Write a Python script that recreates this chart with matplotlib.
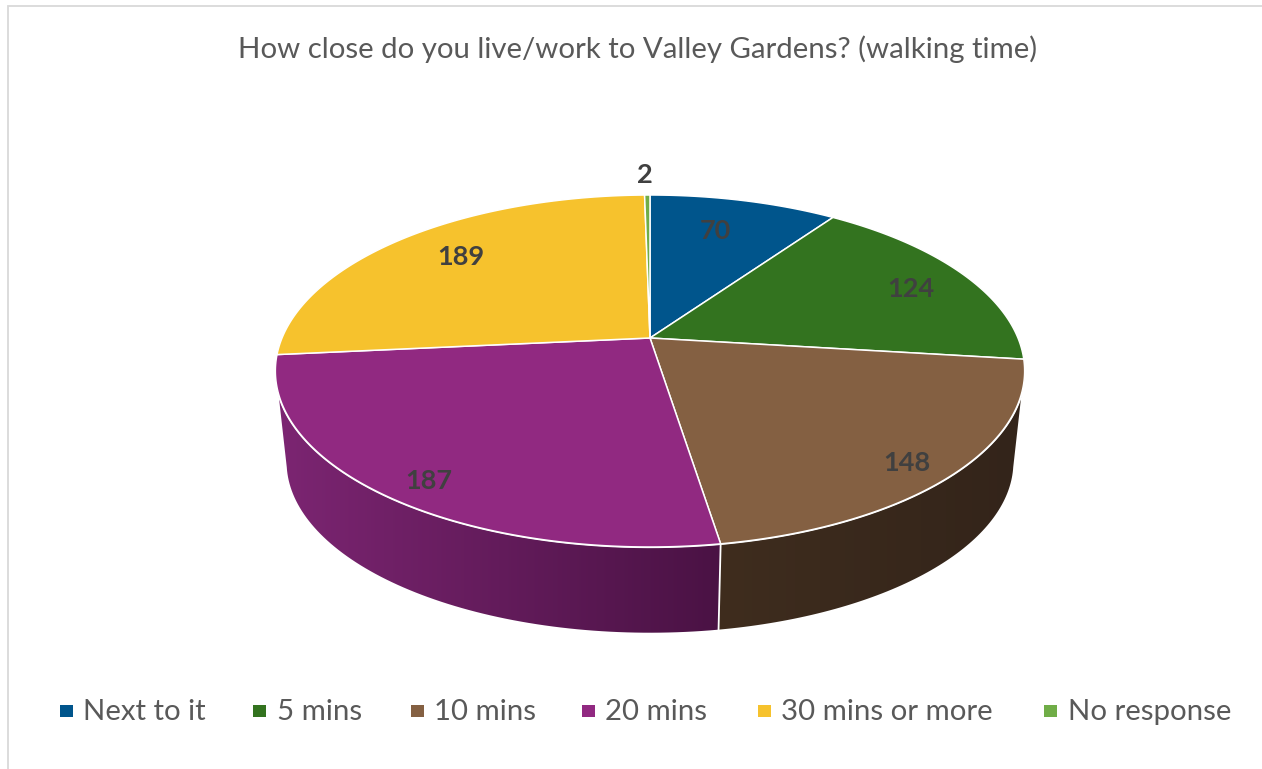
import numpy as np
import matplotlib
matplotlib.use("Agg")
import matplotlib.pyplot as plt
from matplotlib.patches import Polygon, Rectangle

TITLE = "How close do you live/work to Valley Gardens? (walking time)"
categories = ["Next to it", "5 mins", "10 mins", "20 mins", "30 mins or more", "No response"]
values = [70, 124, 148, 187, 189, 2]
colors = ["#00558c", "#33731f", "#846042", "#912981", "#f6c22d", "#70ad47"]
side_colors = {2: ("#3f2d1e", "#33241a"), 3: ("#7c2572", "#4a1244")}

label_xy = [(715, 231), (911, 289), (907, 463), (429, 481), (461, 257), (645, 175)]
legend_square_x = [60, 253, 411, 582, 758, 1044]
legend_text_x = [83, 277, 434, 605, 781, 1068]

W, H = 1262, 769
CX, CY = 650, 338
A, B, K = 368.0, 169.8, 0.1875
SCALE, SHIFT = 0.97, 92

plt.rcParams["font.family"] = ["Lato", "DejaVu Sans"]
fig = plt.figure(figsize=(W / 100, H / 100), dpi=100)
ax = fig.add_axes([0, 0, 1, 1])
ax.axis("off")


def top(deg):
    t = np.radians(np.atleast_1d(deg))
    u, v = np.sin(t), np.cos(t)
    w = 1 + K * v
    return np.column_stack([CX + A * u / w, CY - B * v / w])


def bottom(deg):
    p = top(deg)
    return np.column_stack([CX + SCALE * (p[:, 0] - CX), CY + SHIFT + SCALE * (p[:, 1] - CY)])


edges = np.concatenate([[0], np.cumsum(values)]) / sum(values) * 360

# Side wall: horizontal gradients clipped to each wall section
T0, T1 = 108.0, 252.0
B0, B1 = 102.5, 257.5
seam = edges[3]
sections = {
    2: np.vstack([top(np.linspace(T0, seam, 80)), bottom(np.linspace(seam, B0, 80))]),
    3: np.vstack([top(np.linspace(seam, T1, 80)), bottom(np.linspace(B1, seam, 80))]),
}
seam_x = top(seam)[0, 0]
for i, pts in sections.items():
    c0, c1 = (np.array(matplotlib.colors.to_rgb(c)) for c in side_colors[i])
    x0, x1 = pts[:, 0].min() - 1, pts[:, 0].max() + 1
    y0, y1 = pts[:, 1].min() - 1, pts[:, 1].max() + 1
    s = np.linspace(0, 1, 256)[:, None]
    img = (c0 * (1 - s) + c1 * s)[None, :, :]
    im = ax.imshow(img, extent=[x0, x1, y1, y0], aspect="auto", interpolation="bilinear", zorder=2)
    clip = Polygon(pts, closed=True, transform=ax.transData, fc="none", ec="none")
    ax.add_patch(clip)
    im.set_clip_path(clip)

ax.set_xlim(0, W)
ax.set_ylim(H, 0)

sp = np.vstack([top(seam), bottom(seam)])
ax.plot(sp[:, 0], sp[:, 1], color="white", lw=1.3, zorder=3)
rim = top(np.linspace(T0, T1, 200))
ax.plot(rim[:, 0], rim[:, 1], color="white", lw=1.7, zorder=3)

# Top face
for i, col in enumerate(colors):
    g = np.linspace(edges[i], edges[i + 1], max(3, int(edges[i + 1] - edges[i]) * 2))
    pts = np.vstack([[CX, CY], top(g)])
    ax.add_patch(Polygon(pts, closed=True, fc=col, ec="white", lw=1.1, joinstyle="round", zorder=4))

# Data labels
for (x, y), val in zip(label_xy, values):
    ax.text(x, y, str(val), ha="center", va="center", fontsize=19.5, fontweight="bold",
            color="#404040", zorder=5)

# Title
ax.text(637.5, 49.5, TITLE, ha="center", va="center", fontsize=21.2, color="#595959")

# Legend
for sx, tx, name, col in zip(legend_square_x, legend_text_x, categories, colors):
    ax.add_patch(Rectangle((sx, 705), 13, 12, fc=col, ec="none"))
    ax.text(tx, 712, name, ha="left", va="center", fontsize=21.2, color="#595959")

# Chart frame
ax.plot([8, 8, W], [H, 6, 6], color="#d9d9d9", lw=1.3, solid_joinstyle="miter")

fig.savefig("out.png", dpi=100, facecolor="white")
